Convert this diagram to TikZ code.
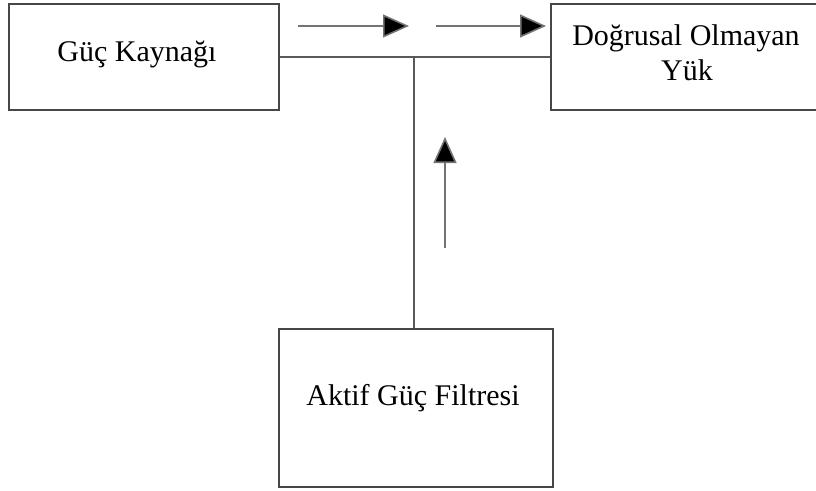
\documentclass[tikz,border=0pt]{standalone}
\usepackage{fontspec}
\setmainfont{Liberation Serif}
\usetikzlibrary{arrows.meta}
\begin{document}
\begin{tikzpicture}[x=1pt,y=-1pt,
  box/.style={draw=black!72, line width=2.2pt, fill=white, inner sep=0pt, align=center},
  lbl/.style={inner sep=0pt, anchor=base, font=\fontsize{30}{35}\selectfont},
  wire/.style={draw=black!65, line width=2.2pt},
  flow/.style={draw=black!55, line width=1.6pt, -{Triangle[length=26pt,width=23pt,fill=black]}}]
\useasboundingbox (0,0) rectangle (816,490);
\fill[white] (0,0) rectangle (816,490);
\node[box, minimum width=270pt, minimum height=106pt] (src) at (144,57) {};
\node[lbl] (srct) at (137,61) {Güç Kaynağı};
\node[box, minimum width=270pt, minimum height=106pt] (load) at (686,57) {};
\node[lbl] (loadt1) at (686,45) {Doğrusal Olmayan};
\node[lbl] (loadt2) at (687,80) {Yük};
\node[box, minimum width=274pt, minimum height=158pt] (apf) at (416,408) {};
\node[lbl] (apft) at (413,405) {Aktif Güç Filtresi};
\draw[wire] (src.east) -- (load.west);
\coordinate (jn) at (414,57);
\draw[wire] (apf.north -| jn) -- (jn);
\coordinate (a1s) at (298,26);
\coordinate (a1e) at (409,26);
\coordinate (a2s) at (436,26);
\coordinate (a2e) at (546,26);
\coordinate (a3s) at (445,248);
\coordinate (a3e) at (445,137);
\draw[flow] (a1s) -- (a1e);
\draw[flow] (a2s) -- (a2e);
\draw[flow] (a3s) -- (a3e);
\end{tikzpicture}
\end{document}
